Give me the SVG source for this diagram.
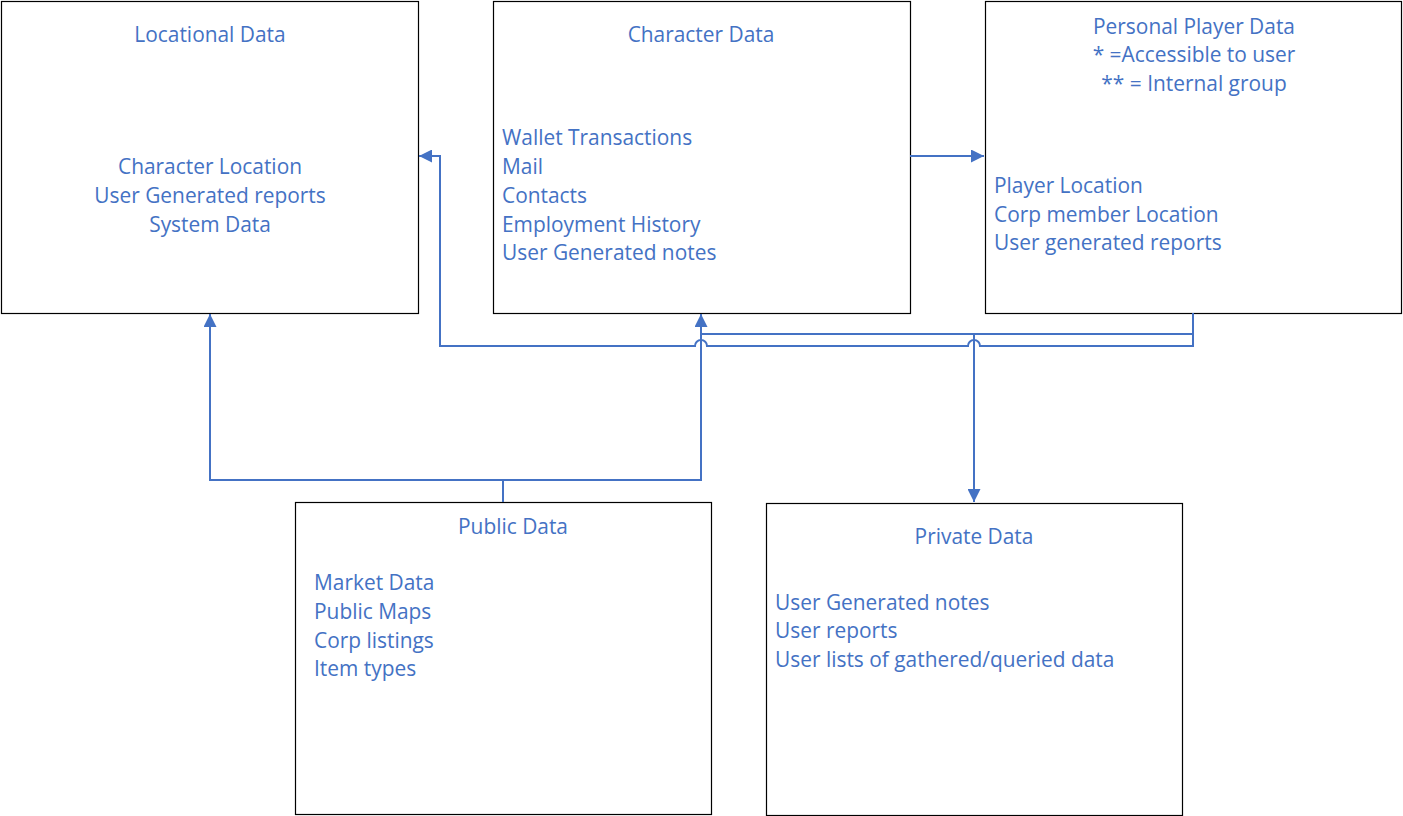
<svg xmlns="http://www.w3.org/2000/svg" width="1403" height="816" viewBox="0 0 1403 816">
<defs>
<style>
.box{fill:#fff;stroke:#000;stroke-width:1.2}
.t{font-family:"Open Sans","Liberation Sans",Arial,sans-serif;font-size:20.9px;fill:#4472C4}
.c{text-anchor:middle}
.ln{fill:none;stroke:#4472C4;stroke-width:2}
</style>
<marker id="ah" viewBox="0 0 10 10" refX="10" refY="5" markerWidth="14" markerHeight="13" markerUnits="userSpaceOnUse" orient="auto"><path d="M0,0 L10,5 L0,10 z" fill="#4472C4"/></marker>
</defs>
<rect width="1403" height="816" fill="#fff"/>
<g id="locational">
<rect class="box" x="1.5" y="1.5" width="417" height="312"/>
<text class="t c" x="210" y="42">Locational Data</text>
<text class="t c" x="210" y="174">Character Location</text>
<text class="t c" x="210" y="203">User Generated reports</text>
<text class="t c" x="210" y="232">System Data</text>
</g>
<g id="character">
<rect class="box" x="493.5" y="1.5" width="417" height="312"/>
<text class="t c" x="701" y="42">Character Data</text>
<text class="t" x="502" y="145">Wallet Transactions</text>
<text class="t" x="502" y="174">Mail</text>
<text class="t" x="502" y="203">Contacts</text>
<text class="t" x="502" y="232">Employment History</text>
<text class="t" x="502" y="260">User Generated notes</text>
</g>
<g id="personal">
<rect class="box" x="985.5" y="1.5" width="416" height="312"/>
<text class="t c" x="1194" y="34">Personal Player Data</text>
<text class="t c" x="1194" y="62">* =Accessible to user</text>
<text class="t c" x="1194" y="91">** = Internal group</text>
<text class="t" x="994" y="193">Player Location</text>
<text class="t" x="994" y="222">Corp member Location</text>
<text class="t" x="994" y="250">User generated reports</text>
</g>
<g id="public">
<rect class="box" x="295.5" y="502.5" width="416" height="312"/>
<text class="t c" x="513" y="534">Public Data</text>
<text class="t" x="314" y="590">Market Data</text>
<text class="t" x="314" y="619">Public Maps</text>
<text class="t" x="314" y="648">Corp listings</text>
<text class="t" x="314" y="676">Item types</text>
</g>
<g id="private">
<rect class="box" x="766.5" y="503.5" width="416" height="312"/>
<text class="t c" x="974" y="544">Private Data</text>
<text class="t" x="775" y="610">User Generated notes</text>
<text class="t" x="775" y="638">User reports</text>
<text class="t" x="775" y="667">User lists of gathered/queried data</text>
</g>
<g id="connectors">
<path class="ln" d="M910,156 H984" marker-end="url(#ah)"/>
<path class="ln" d="M1193,313 V346 H980 A6,6 0 0 0 968,346 H707 A6,6 0 0 0 695,346 H440 V156 H419" marker-end="url(#ah)"/>
<path class="ln" d="M1193,334 H701"/>
<path class="ln" d="M974,334 V502" marker-end="url(#ah)"/>
<path class="ln" d="M503,502 V480 H701 V314" marker-end="url(#ah)"/>
<path class="ln" d="M503,480 H210 V314" marker-end="url(#ah)"/>
</g>
</svg>
